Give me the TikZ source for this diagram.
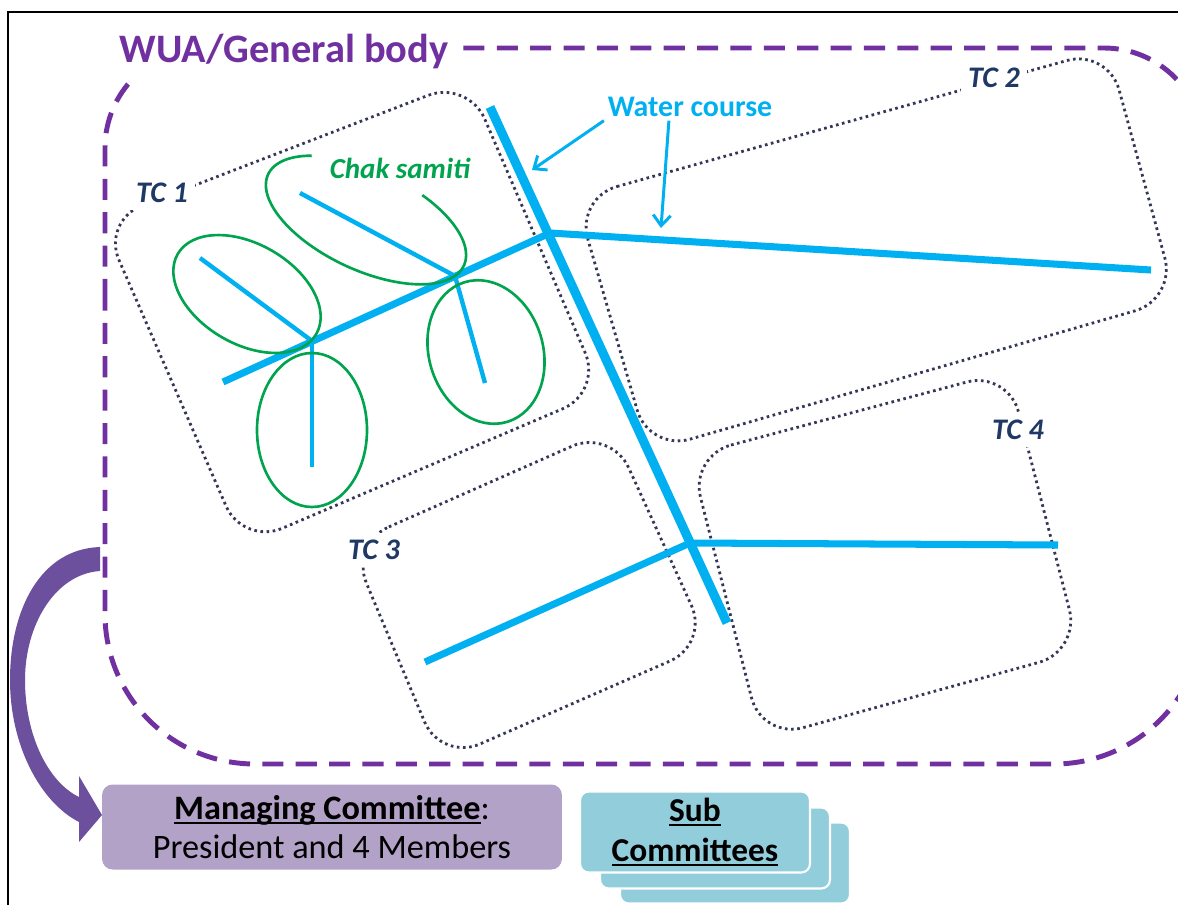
\documentclass[tikz,border=0pt]{standalone}
\usepackage{fontspec}
\setmainfont{Carlito}
\usetikzlibrary{arrows.meta}

\definecolor{wuapurple}{RGB}{112,48,160}
\definecolor{canalblue}{RGB}{0,176,240}
\definecolor{chakgreen}{RGB}{0,163,78}
\definecolor{tcnavy}{RGB}{31,56,100}
\definecolor{tcdot}{RGB}{52,56,86}
\definecolor{mcfill}{RGB}{179,162,199}
\definecolor{subfill}{RGB}{146,205,220}
\definecolor{arrowpurple}{RGB}{108,80,158}

\newlength{\undlwd}
\newcommand{\undl}[1]{\settowidth{\undlwd}{#1}\rlap{\rule[-2.6pt]{\undlwd}{1.1pt}}#1}

\begin{document}
\begin{tikzpicture}[x=0.02cm, y=-0.02cm,
  every node/.style={inner sep=2pt},
  wua/.style={draw=wuapurple, line width=2.8pt, dash pattern=on 12pt off 7pt},
  tcline/.style={draw=tcdot, line width=1.6pt, dash pattern=on 1.5pt off 2pt, rounded corners=0.85cm},
  tclabel/.style={fill=white, inner sep=4pt, text=tcnavy, font=\fontsize{17}{20}\selectfont\bfseries\itshape},
  canal/.style={draw=canalblue, line width=5.2pt},
  minor/.style={draw=canalblue, line width=4pt},
  field/.style={draw=canalblue, line width=2.5pt},
  chak/.style={draw=chakgreen, line width=1.5pt},
  pointer/.style={draw=canalblue, line width=1.7pt, -{Straight Barb[length=6pt,width=10pt]}},
  subbox/.style={fill=subfill, draw=white, line width=1.2pt, rounded corners=5pt, minimum width=4.6cm, minimum height=1.62cm}]
	\useasboundingbox (0,0) rectangle (1178,904);
	\draw[line width=1.1pt] (8,910) -- (8,12) -- (1190,12);

	\draw[wua] (105,400) [rounded corners=2cm] -- (105,48) -- (1204,48) [rounded corners=3cm] -- (1204,764) -- (105,764) [rounded corners=2cm] -- cycle;
	\node[anchor=base, fill=white, inner sep=5pt, text=wuapurple, font=\fontsize{23}{27}\selectfont\bfseries] (title) at (284,62) {WUA/General body};

	\draw[tcline] (102,221) -- (468,80) -- (602,392) -- (243,545) -- cycle;
	\draw[tcline] (576,198) -- (1108,49) -- (1176,299) -- (649,451) -- cycle;
	\draw[tcline] (350,544) -- (611,429) -- (709,644) -- (441,761) -- cycle;
	\draw[tcline] (690,456) -- (1008,371) -- (1080,651) -- (762,739) -- cycle;

	\coordinate (head) at (490,107);
	\coordinate (tail) at (727,623);
	\coordinate (j1) at (550,233);
	\coordinate (j2) at (690,543);
	\draw[canal] (head) -- (tail);
	\draw[minor] (j1) -- (1151,270);
	\draw[minor] (j1) -- (223,382);
	\draw[minor] (j2) -- (1058,545);
	\draw[minor] (j2) -- (425,662);

	\coordinate (k1) at (312,341);
	\coordinate (k2) at (455,276);
	\draw[field] (k1) -- (200,258);
	\draw[field] (k1) -- (312,467);
	\draw[field] (k2) -- (300,193);
	\draw[field] (k2) -- (485,383);

	\draw[chak, rotate around={-30:(247,294)}] (247,294) ellipse [x radius=80, y radius=50];
	\draw[chak, shift={(366,220)}, rotate=-25] (-68:108 and 50) arc[start angle=-68, end angle=225, x radius=108, y radius=50];
	\draw[chak] (312,430) ellipse [x radius=55, y radius=77];
	\draw[chak, rotate around={17:(486,352)}] (486,352) ellipse [x radius=57, y radius=73];
	\node[text=chakgreen, font=\fontsize{16.5}{19}\selectfont\bfseries\itshape] (chak) at (400,168) {Chak samiti};

	\node[text=canalblue, font=\fontsize{17}{20}\selectfont\bfseries] (water) at (690,107) {Water course};
	\coordinate (hit1) at (532,170);
	\coordinate (hit2) at (661,228);
	\draw[pointer] (water.south west) -- (hit1);
	\draw[pointer] ([xshift=-12pt]water.south) -- (hit2);

	\node[tclabel] (tc1) at (162,193) {TC 1};
	\node[tclabel] (tc2) at (994,78) {TC 2};
	\node[tclabel] (tc3) at (374,550) {TC 3};
	\node[tclabel] (tc4) at (1018,430) {TC 4};

	\fill[arrowpurple] (100,547) .. controls (40,549) and (10,610) .. (10,680) .. controls (10,745) and (40,802) .. (79,822) -- (79,842) -- (102,815) -- (79,776) -- (79,797) .. controls (48,782) and (25,735) .. (25,680) .. controls (25,625) and (55,574) .. (100,571) -- cycle;
	\node[fill=mcfill, rounded corners=6pt, minimum width=9.2cm, minimum height=1.7cm, align=center, font=\fontsize{19.5}{22.5}\selectfont] (mc) at (332,827) {\textbf{\undl{Managing Committee}}:\\President and 4 Members};

	\node[subbox] (sub3) at (735,863) {};
	\node[subbox] (sub2) at (715,848) {};
	\node[subbox, align=center, font=\fontsize{19}{23}\selectfont\bfseries] (sub1) at (695,832) {\undl{Sub}\\\undl{Committees}};
\end{tikzpicture}
\end{document}
